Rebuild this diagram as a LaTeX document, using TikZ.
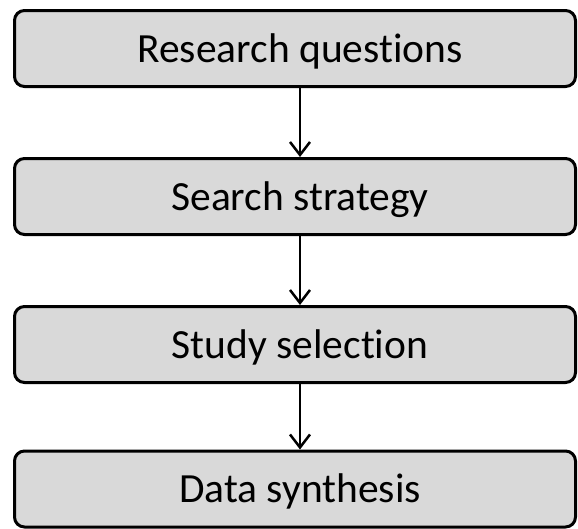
\documentclass[tikz,border=0pt]{standalone}
\usepackage{fontspec}
\setmainfont{Carlito}[Ligatures=NoCommon]
\usetikzlibrary{arrows.meta}
\definecolor{boxgray}{HTML}{D9D9D9}
\begin{document}
\begin{tikzpicture}[x=1pt,y=-1pt]
  \useasboundingbox (0,0) rectangle (578,528);
  \begin{scope}[every node/.style={draw=black,line width=3pt,fill=boxgray,rounded corners=10pt,minimum width=561pt,minimum height=76pt,inner sep=0pt,text height=27pt,text depth=0pt,execute at begin node=\hspace*{10pt},font=\fontsize{41.5}{45}\selectfont}]
  \node (rq) at (295,48.5) {Research questions};
  \node (ss) at (295,196.5) {Search strategy};
  \node (sel) at (295,344.5) {Study selection};
  \node (ds) at (295,489) {Data synthesis};
  \end{scope}
  \begin{scope}[every edge/.style={draw=black,line width=2.5pt,-{Straight Barb[length=13pt,width=20pt]}}]
  \path ([xshift=5pt]rq.south) edge ([xshift=5pt]ss.north);
  \path ([xshift=5pt]ss.south) edge ([xshift=5pt]sel.north);
  \path ([xshift=5pt]sel.south) edge ([xshift=5pt]ds.north);
  \end{scope}
\end{tikzpicture}
\end{document}
